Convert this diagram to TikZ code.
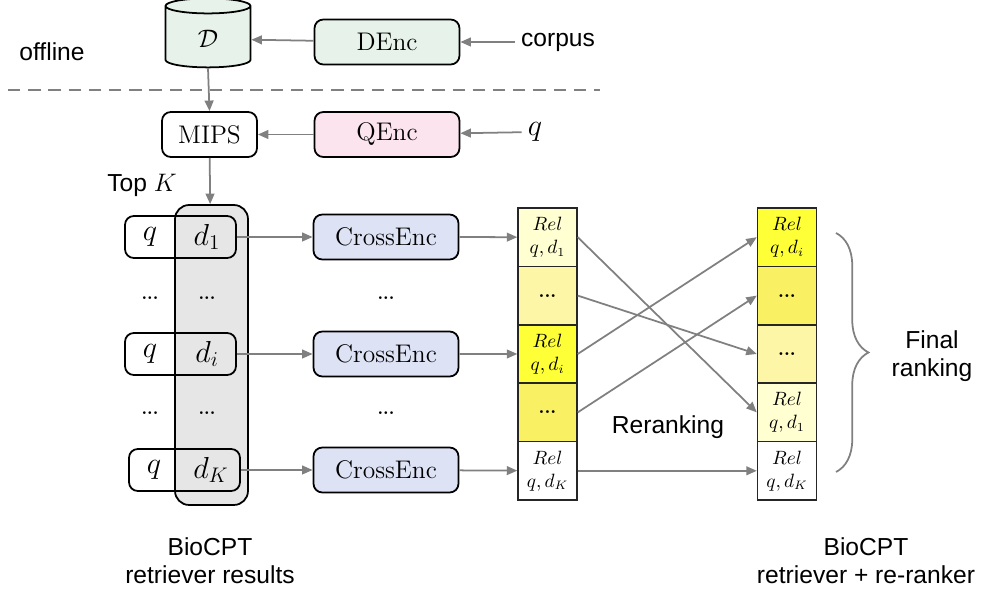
\documentclass[tikz,border=0pt]{standalone}
\usepackage{fontspec}
\usepackage{amsmath}
\setsansfont{Liberation Sans}
\usetikzlibrary{shapes.geometric,arrows.meta,decorations.pathreplacing}

\definecolor{encgreen}{HTML}{E6F2EA}
\definecolor{encpink}{HTML}{FBE4EE}
\definecolor{encblue}{HTML}{DDE2F4}
\definecolor{colgray}{HTML}{E6E6E6}
\definecolor{linegray}{HTML}{808080}
\definecolor{rel1}{HTML}{FFFF38}
\definecolor{rel2}{HTML}{FAF064}
\definecolor{rel3}{HTML}{FCF6A6}
\definecolor{rel4}{HTML}{FFFFD2}

\newcommand{\relpair}[1]{$Rel$\\$q,d_{#1}$}
\newcommand{\reldots}{\textbf{...}}

\tikzset{
	encbox/.style={draw, line width=1pt, rounded corners=5pt, minimum width=2.9cm, minimum height=0.9cm, font=\fontsize{14.5}{16}\selectfont},
	pairbox/.style={draw, line width=1pt, rounded corners=5pt, minimum width=2.22cm, minimum height=0.84cm},
	relcell/.style={draw=black!85, line width=0.8pt, minimum width=1.18cm, minimum height=1.168cm, align=center, inner sep=0pt, font=\fontsize{10.5}{13}\selectfont},
	arr/.style={draw=linegray, line width=1pt, -{Triangle[length=6pt,width=5pt]}},
	txt/.style={font=\sffamily\fontsize{14}{16}\selectfont, align=center},
	mtext/.style={font=\fontsize{16.5}{18}\selectfont},
}

\begin{document}
\begin{tikzpicture}[x=0.02cm, y=-0.02cm]
	\useasboundingbox (0,0) rectangle (981,590);

	% offline
	\node[cylinder, shape border rotate=90, draw, line width=1pt, fill=encgreen, aspect=0.47, minimum width=1.7cm, minimum height=1.38cm, font=\fontsize{15}{16}\selectfont] (db) at (208,39) {$\mathcal{D}$};
	\node[encbox, fill=encgreen] (denc) at (387,42) {DEnc};
	\node[txt] (corpus) at (558,42) {corpus};
	\node[txt] (offline) at (52,52) {offline};
	\draw[arr] (corpus) -- (denc);
	\draw[arr] (denc) -- (db);
	\draw[dashed, linegray, line width=1.2pt, dash pattern=on 7pt off 4.5pt] (8,90) -- (600,90);

	% online
	\node[encbox, fill=white, minimum width=1.9cm] (mips) at (209.5,134.5) {MIPS};
	\node[encbox, fill=encpink] (qenc) at (387,134.5) {QEnc};
	\node[mtext] (query) at (535,132) {$q$};
	\draw[arr] (db.south) -- (mips.north);
	\draw[arr] (qenc) -- (mips);
	\draw[arr] (query) -- (qenc);
	\node[txt] (topk) at (142,185) {Top $K$};

	\node[draw, line width=1pt, rounded corners=8pt, fill=colgray, minimum width=1.46cm, minimum height=6cm] (retcol) at (211.5,355) {};
	\draw[arr] (mips) -- (retcol);

	\foreach \r/\y/\dx in {1/237/0, i/354/0, K/470/4} {
		\node[pairbox] (pair\r) at (180.5+\dx,\y) {};
		\node[mtext] (q\r) at (150+\dx,\y) {$q$};
		\node[mtext] (d\r) at (207+\dx,\y) {$d_{\r}$};
		\node[encbox, fill=encblue] (ce\r) at (386,\y) {CrossEnc};
		\draw[arr] (pair\r) -- (ce\r);
	}
	\foreach \y in {298,413} {
		\node (dq\y) at (150,\y) {\textbf{...}};
		\node (dd\y) at (207,\y) {\textbf{...}};
		\node (dc\y) at (386,\y) {\textbf{...}};
	}

	% relevance columns
	\foreach \k/\col/\txt in {1/rel4/\relpair{1}, 2/rel3/\reldots, 3/rel1/\relpair{i}, 4/rel2/\reldots, 5/white/\relpair{K}}
		\node[relcell, fill=\col] (L\k) at (547.5,178.8+58.4*\k) {\txt};
	\foreach \k/\col/\txt in {1/rel1/\relpair{i}, 2/rel2/\reldots, 3/rel3/\reldots, 4/rel4/\relpair{1}, 5/white/\relpair{K}}
		\node[relcell, fill=\col] (R\k) at (787,178.8+58.4*\k) {\txt};

	\draw[arr] (ce1) -- (L1);
	\draw[arr] (cei) -- (L3);
	\draw[arr] (ceK) -- (L5);
	\foreach \a/\b in {1/4, 2/3, 3/1, 4/2, 5/5}
		\draw[arr] (L\a.east) -- (R\b.west);

	\node[txt] (rerank) at (668,427) {Reranking};

	\coordinate (brtop) at (836,233);
	\coordinate (brbot) at (836,472);
	\draw[linegray, line width=1pt, decorate, decoration={brace, amplitude=0.65cm, aspect=0.5}] (brtop) -- (brbot);
	\node[txt] (final) at (932,356) {Final\\ranking};

	\node[txt] (retlabel) at (210,561) {BioCPT\\retriever results};
	\node[txt] (rrlabel) at (866,561) {BioCPT\\retriever + re-ranker};
\end{tikzpicture}
\end{document}
